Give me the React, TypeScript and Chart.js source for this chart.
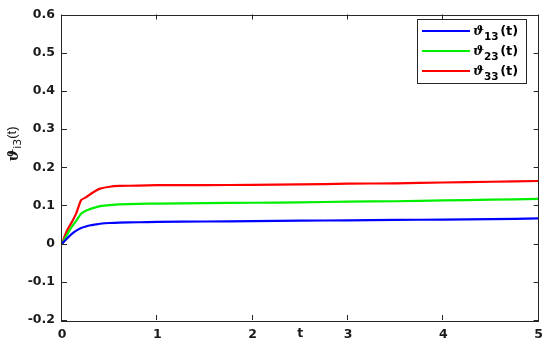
import React, { useEffect, useRef } from "react";
import { Chart, registerables } from "chart.js";

Chart.register(...registerables);

const tValues = [0, 0.05, 0.1, 0.15, 0.2, 0.25, 0.3, 0.35, 0.4, 0.5, 0.6, 0.8, 1, 1.5, 2, 2.5, 3, 3.5, 4, 4.5, 5];
const theta13 = [0, 0.013, 0.025, 0.034, 0.041, 0.045, 0.048, 0.050, 0.052, 0.054, 0.055, 0.056, 0.057, 0.058, 0.059, 0.060, 0.061, 0.062, 0.063, 0.064, 0.066];
const theta23 = [0, 0.022, 0.043, 0.060, 0.078, 0.086, 0.091, 0.095, 0.098, 0.101, 0.103, 0.104, 0.105, 0.106, 0.107, 0.108, 0.110, 0.111, 0.113, 0.115, 0.117];
const theta33 = [0, 0.033, 0.055, 0.080, 0.114, 0.121, 0.130, 0.138, 0.144, 0.149, 0.151, 0.152, 0.153, 0.153, 0.154, 0.155, 0.157, 0.158, 0.160, 0.162, 0.164];
const seriesLabels = ["13", "23", "33"];
const seriesColors = ["#0000ff", "#00ee00", "#ff0000"];
const xTicks = [0, 1, 2, 3, 4, 5];
const yTicks = [-0.2, -0.1, 0, 0.1, 0.2, 0.3, 0.4, 0.5, 0.6];

const SANS = "'DejaVu Sans', 'Liberation Sans', Arial, sans-serif";
const TARGET = { left: 62, right: 541, top: 12, bottom: 320 };

const framePlugin = {
  id: "frame",
  afterDraw(chart: any) {
    const ctx = chart.ctx;
    const { left, right, top, bottom } = chart.chartArea;
    const xs = chart.scales.x;
    const ys = chart.scales.y;
    ctx.save();
    ctx.strokeStyle = "#262626";
    ctx.lineWidth = 1;
    ctx.strokeRect(Math.round(left) - 0.5, Math.round(top) + 0.5, Math.round(right - left), Math.round(bottom - top));
    const tl = 5;
    ctx.beginPath();
    for (const v of xTicks) {
      const px = Math.round(xs.getPixelForValue(v)) - 0.5;
      ctx.moveTo(px, bottom);
      ctx.lineTo(px, bottom - tl);
      ctx.moveTo(px, top);
      ctx.lineTo(px, top + tl);
    }
    for (const v of yTicks) {
      const py = Math.round(ys.getPixelForValue(v)) + 0.5;
      ctx.moveTo(left, py);
      ctx.lineTo(left + tl, py);
      ctx.moveTo(right, py);
      ctx.lineTo(right - tl, py);
    }
    ctx.stroke();

    // x title "t" in tick row
    ctx.fillStyle = "#1a1a1a";
    ctx.font = `bold 12.5px ${SANS}`;
    ctx.textAlign = "center";
    ctx.textBaseline = "middle";
    ctx.fillText("t", (left + right) / 2, 334);

    // y title
    ctx.save();
    ctx.translate(13, 144);
    ctx.rotate(-Math.PI / 2);
    ctx.textBaseline = "alphabetic";
    ctx.textAlign = "left";
    const f1 = `italic bold 15px 'DejaVu Serif', serif`;
    const f2 = `11px ${SANS}`;
    const f3 = `13px 'Liberation Sans', Arial, sans-serif`;
    ctx.font = f1;
    const w1 = ctx.measureText("ϑ").width;
    ctx.font = f2;
    const w2 = ctx.measureText("i3").width;
    ctx.font = f3;
    const w3 = ctx.measureText("(t)").width;
    let x0 = -(w1 + w2 + w3) / 2;
    ctx.font = f1;
    ctx.fillText("ϑ", x0, 5);
    x0 += w1;
    ctx.font = f2;
    ctx.fillText("i3", x0, 8);
    x0 += w2;
    ctx.font = f3;
    ctx.fillText("(t)", x0, 3);
    ctx.restore();

    // legend
    const lx = 417, ly = 19, lw = 109, lh = 64;
    ctx.fillStyle = "#ffffff";
    ctx.fillRect(lx, ly, lw, lh);
    ctx.strokeStyle = "#262626";
    ctx.lineWidth = 1;
    ctx.strokeRect(lx + 0.5, ly + 0.5, lw, lh);
    for (let i = 0; i < seriesLabels.length; i++) {
      const y = 31 + i * 20;
      ctx.strokeStyle = seriesColors[i];
      ctx.lineWidth = 2;
      ctx.beginPath();
      ctx.moveTo(422, y);
      ctx.lineTo(470, y);
      ctx.stroke();
      ctx.fillStyle = "#000000";
      ctx.textBaseline = "alphabetic";
      ctx.textAlign = "left";
      let tx = 473;
      ctx.font = `italic bold 13px 'DejaVu Serif', serif`;
      ctx.fillText("ϑ", tx, y + 4);
      tx += ctx.measureText("ϑ").width;
      ctx.font = `bold 10.5px ${SANS}`;
      ctx.fillText(seriesLabels[i], tx, y + 9);
      tx += ctx.measureText(seriesLabels[i]).width + 1.5;
      ctx.font = `bold 13px ${SANS}`;
      ctx.fillText("(t)", tx, y + 4);
    }
    ctx.restore();
  },
};

export default function App() {
  const ref = useRef<HTMLCanvasElement | null>(null);
  useEffect(() => {
    document.body.style.margin = "0";
    const canvas = ref.current;
    if (!canvas) return;
    const mk = (vals: number[]) => tValues.map((t, i) => ({ x: t, y: vals[i] }));
    const padding = { top: TARGET.top, right: 550 - TARGET.right, left: 0, bottom: 0 };
    const chart = new Chart(canvas, {
      type: "line",
      data: {
        datasets: [theta13, theta23, theta33].map((vals, i) => ({
          label: "ϑ" + seriesLabels[i] + "(t)",
          data: mk(vals),
          borderColor: seriesColors[i],
          backgroundColor: seriesColors[i],
          borderWidth: 2.2,
          pointRadius: 0,
          tension: 0.15,
          fill: false,
        })),
      },
      options: {
        animation: false,
        responsive: false,
        maintainAspectRatio: false,
        layout: { padding },
        plugins: { legend: { display: false }, tooltip: { enabled: false } },
        scales: {
          x: {
            type: "linear",
            min: 0,
            max: 5,
            afterBuildTicks: (s: any) => {
              s.ticks = xTicks.map((v) => ({ value: v }));
            },
            afterFit: (s: any) => {
              s.height = 346 - TARGET.bottom;
            },
            grid: { display: false, drawTicks: false },
            border: { display: false },
            ticks: {
              padding: 7,
              color: "#1a1a1a",
              font: { family: SANS, size: 12.5, weight: "bold" },
              callback: (v: any) => String(v),
            },
          },
          y: {
            type: "linear",
            min: -0.2,
            max: 0.6,
            afterBuildTicks: (s: any) => {
              s.ticks = yTicks.map((v) => ({ value: v }));
            },
            afterFit: (s: any) => {
              s.width = TARGET.left;
            },
            grid: { display: false, drawTicks: false },
            border: { display: false },
            ticks: {
              padding: 7,
              color: "#1a1a1a",
              font: { family: SANS, size: 12.5, weight: "bold" },
              callback: (v: any) => {
                const n = Math.round(Number(v) * 10) / 10;
                return n === 0 ? "0" : n.toFixed(1);
              },
            },
          },
        },
      },
      plugins: [framePlugin],
    } as any);
    for (let k = 0; k < 3; k++) {
      const a = chart.chartArea;
      const dTop = a.top - TARGET.top;
      const dRight = a.right - TARGET.right;
      if (Math.abs(dTop) < 0.01 && Math.abs(dRight) < 0.01) break;
      padding.top = Math.max(0, padding.top - dTop);
      padding.right = Math.max(0, padding.right + dRight);
      (chart.options as any).layout.padding = { ...padding };
      chart.update();
    }
    return () => chart.destroy();
  }, []);
  return <canvas ref={ref} width={550} height={346} style={{ display: "block" }} />;
}
